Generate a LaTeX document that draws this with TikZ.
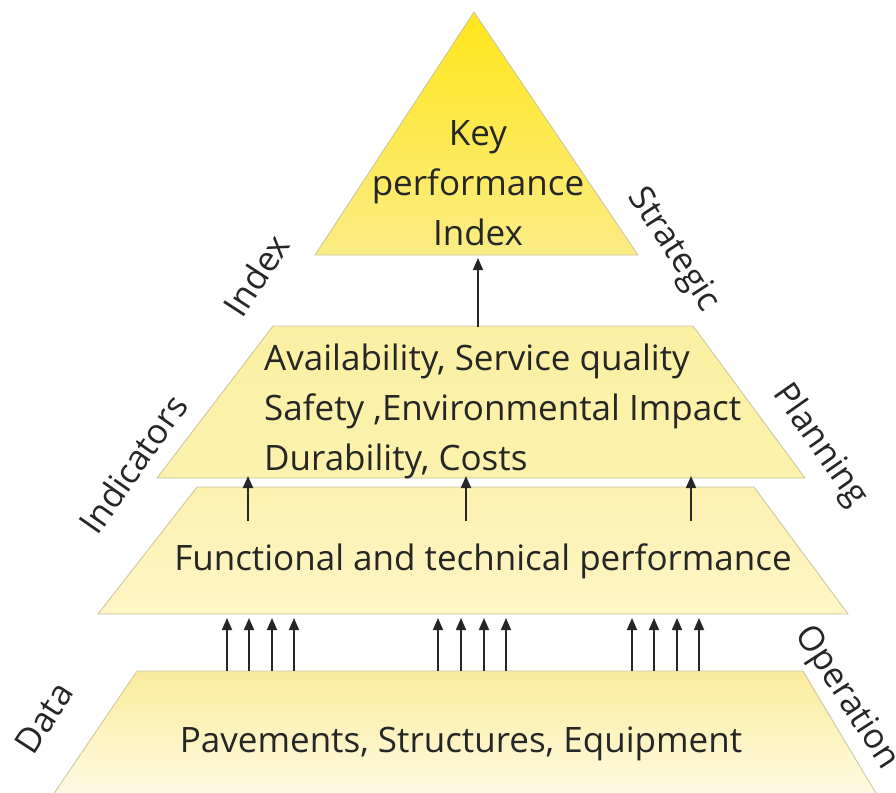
\documentclass[tikz,border=0pt]{standalone}
\usepackage{fontspec}
\setmainfont{Open Sans}
\usetikzlibrary{arrows.meta}

\definecolor{ink}{HTML}{262626}
\definecolor{rim}{HTML}{C9C3A0}
\definecolor{apexTop}{HTML}{FFE61A}
\definecolor{apexBot}{HTML}{FBEC86}
\definecolor{midTop}{HTML}{FBF0A2}
\definecolor{midBot}{HTML}{FCF2AE}
\definecolor{lowTop}{HTML}{FCF1B0}
\definecolor{lowBot}{HTML}{FEF6C6}
\definecolor{baseTop}{HTML}{FBEC9C}
\definecolor{baseBot}{HTML}{FFFDF2}

\tikzset{
  tier/.style={draw=rim, line width=0.8pt},
  label/.style={text=ink, font=\fontsize{35}{50}\selectfont, inner sep=0pt},
  side/.style={text=ink, font=\fontsize{34.5}{40}\selectfont, inner sep=0pt},
  up/.style={draw=ink, line width=1.8pt, -{Triangle[length=12pt,width=10pt]}}
}

\begin{document}
\begin{tikzpicture}[x=1pt,y=-1pt]
\useasboundingbox (0,0) rectangle (896,792);
\clip (0,0) rectangle (896,792);

% apex triangle
\path[tier, top color=apexTop, bottom color=apexBot]
  (315,255) -- (474,12) -- (638,255) -- cycle;
% indicators tier
\path[tier, top color=midTop, bottom color=midBot]
  (157,478) -- (273,326) -- (693,326) -- (805,478) -- cycle;
% performance tier
\path[tier, top color=lowTop, bottom color=lowBot]
  (98,614) -- (197,487) -- (754,487) -- (848,614) -- cycle;
% data tier
\path[tier, top color=baseTop, bottom color=baseBot]
  (36,820) -- (137,671) -- (803,671) -- (892,820) -- cycle;

% tier texts
\node[label, align=center] (kpi) at (478,183) {Key\\performance\\Index};
\node[label, align=left, anchor=west] (ind) at (264,411)
  {Availability, Service quality\\Safety ,Environmental Impact\\Durability, Costs};
\node[label] (perf) at (483,561) {Functional and technical performance};
\node[label] (data) at (461,744) {Pavements, Structures, Equipment};

% side labels
\node[side, rotate=57] (lIndex) at (256,275) {Index};
\node[side, rotate=-57] (lStrat) at (673,250) {Strategic};
\node[side, rotate=55] (lInd) at (133,464) {Indicators};
\node[side, rotate=-55] (lPlan) at (820,446) {Planning};
\node[side, rotate=57] (lData) at (44,718) {Data};
\node[side, rotate=-57] (lOper) at (846,698) {Operation};

% anchors for the connectors
\coordinate (s0) at (478,327);
\coordinate (t0) at (478,258);
\draw[up] (s0) -- (t0);

\foreach \i/\x in {1/248,2/466,3/691} {
  \coordinate (s\i) at (\x,521);
  \coordinate (t\i) at (\x,476);
  \draw[up] (s\i) -- (t\i);
}

\foreach \i/\x in {1/227,2/249,3/272,4/294,5/438,6/461,7/484,8/506,9/632,10/654,11/677,12/699} {
  \coordinate (b\i) at (\x,671);
  \coordinate (c\i) at (\x,618);
  \draw[up] (b\i) -- (c\i);
}
\end{tikzpicture}
\end{document}
